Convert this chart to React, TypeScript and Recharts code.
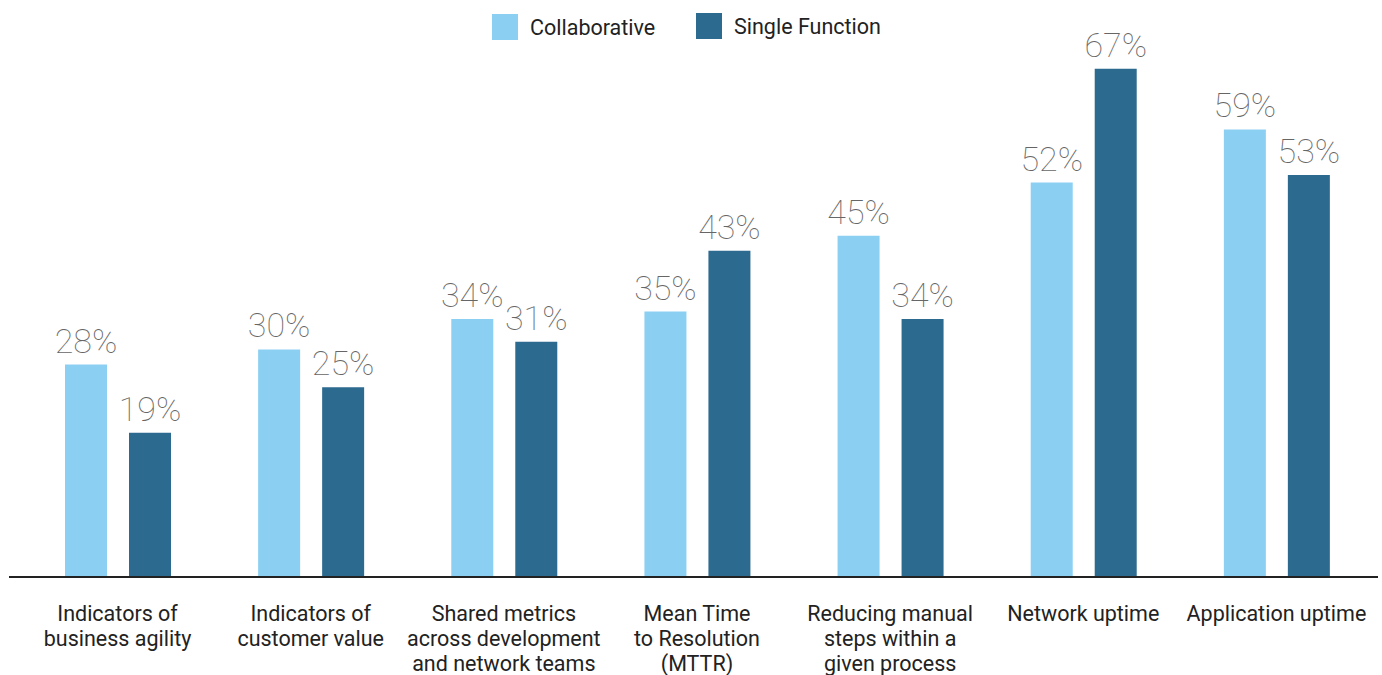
import React from "react"
import { Bar, BarChart, LabelList, XAxis, YAxis } from "recharts"

const categories = [
  ["Indicators of", "business agility"],
  ["Indicators of", "customer value"],
  ["Shared metrics", "across development", "and network teams"],
  ["Mean Time", "to Resolution", "(MTTR)"],
  ["Reducing manual", "steps within a", "given process"],
  ["Network uptime"],
  ["Application uptime"],
]
const collaborative = [28, 30, 34, 35, 45, 52, 59]
const singleFunction = [19, 25, 31, 43, 34, 67, 53]

const LIGHT = "#8bcff3"
const DARK = "#2d6a8f"
const FONT = "Roboto, 'Noto Sans', sans-serif"

const data = categories.map((c, i) => ({
  name: c.join("\n"),
  collaborative: collaborative[i],
  single: singleFunction[i],
}))

function CategoryTick(props: any) {
  const { x, payload } = props
  const lines = String(payload.value).split("\n")
  return (
    <text x={x} y={621} textAnchor="middle" fill="#222" fontSize={21.5} fontFamily={FONT}>
      {lines.map((l, i) => (
        <tspan key={i} x={x} dy={i === 0 ? 0 : 25}>
          {l}
        </tspan>
      ))}
    </text>
  )
}

function Legend() {
  const item = (color: string, label: string, left: number, top: number) => (
    <div style={{ position: "absolute", left, top, display: "flex", alignItems: "center" }}>
      <div style={{ width: 26, height: 26, background: color }} />
      <span style={{ marginLeft: 12, fontSize: 21.5, color: "#222", fontFamily: FONT }}>{label}</span>
    </div>
  )
  return (
    <>
      {item(LIGHT, "Collaborative", 492, 14)}
      {item(DARK, "Single Function", 696, 13)}
    </>
  )
}

export default function App() {
  return (
    <div style={{ position: "absolute", left: 0, top: 0, width: 1382, height: 675, background: "#fff" }}>
      <BarChart
        width={1382}
        height={675}
        data={data}
        margin={{ top: 46, right: 4, bottom: 0, left: 9 }}
        barSize={42}
        barGap={22}
      >
        <YAxis hide domain={[0, 70]} />
        <XAxis
          dataKey="name"
          height={98}
          padding={{ left: 12, right: 5 }}
          axisLine={{ stroke: "#222", strokeWidth: 2 }}
          tickLine={false}
          tick={<CategoryTick />}
          interval={0}
        />
        <Bar dataKey="collaborative" fill={LIGHT} isAnimationActive={false}>
          <LabelList
            dataKey="collaborative"
            position="top"
            offset={12}
            formatter={(v: any) => `${v}%`}
            style={{ fill: "#666", fontSize: 34, fontWeight: 100, fontFamily: FONT }}
          />
        </Bar>
        <Bar dataKey="single" fill={DARK} isAnimationActive={false}>
          <LabelList
            dataKey="single"
            position="top"
            offset={12}
            formatter={(v: any) => `${v}%`}
            style={{ fill: "#666", fontSize: 34, fontWeight: 100, fontFamily: FONT }}
          />
        </Bar>
      </BarChart>
      <Legend />
    </div>
  )
}
